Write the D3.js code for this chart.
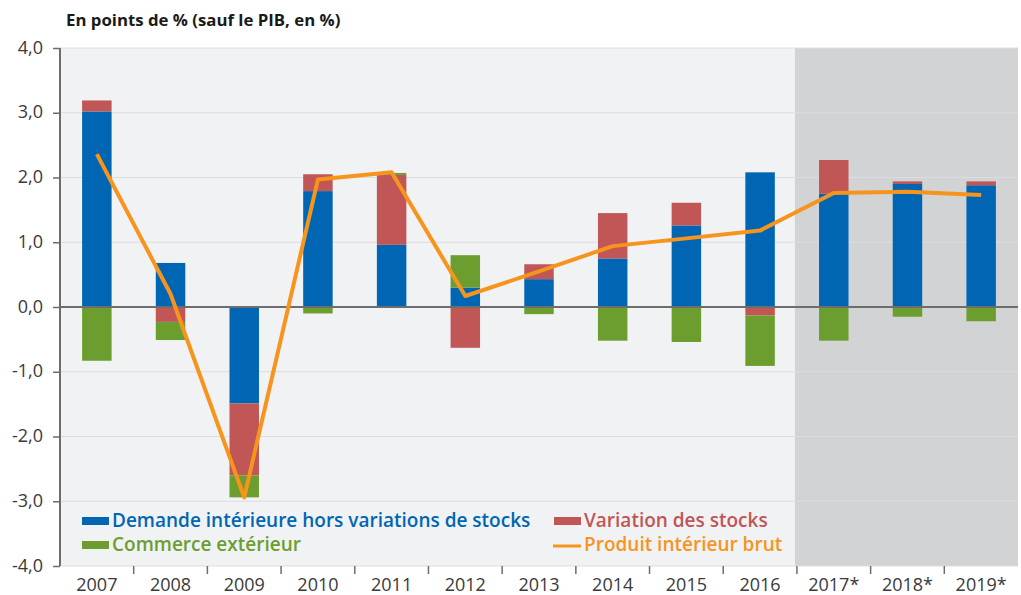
<!DOCTYPE html>
<html><head><meta charset="utf-8">
<script src="https://cdn.jsdelivr.net/npm/d3@7"></script>
<style>body{margin:0;background:#fff;} svg{display:block;}</style>
</head><body>
<svg id="c" width="1021" height="595"></svg>
<script>
const years = ["2007","2008","2009","2010","2011","2012","2013","2014","2015","2016","2017*","2018*","2019*"];
const demande = [3.02, 0.68, -1.49, 1.79, 0.96, 0.30, 0.43, 0.75, 1.26, 2.08, 1.75, 1.90, 1.88];
const stocks  = [0.17, -0.23, -1.11, 0.26, 1.08, -0.63, 0.23, 0.70, 0.35, -0.13, 0.52, 0.04, 0.06];
const commerce= [-0.83, -0.28, -0.34, -0.10, 0.03, 0.50, -0.11, -0.52, -0.54, -0.78, -0.52, -0.15, -0.22];
const pib     = [2.36, 0.20, -2.94, 1.97, 2.08, 0.17, 0.55, 0.94, 1.06, 1.18, 1.76, 1.78, 1.73];
const yTicks  = [-4,-3,-2,-1,0,1,2,3,4];
const forecastFrom = "2017*";

const W=1021,H=595, m={l:60,r:3,t:48,b:29};
const svg=d3.select("#c");
const x=d3.scaleBand().domain(years).range([m.l,W-m.r]).paddingInner(0).paddingOuter(0);
const y=d3.scaleLinear().domain([-4,4]).range([H-m.b,m.t]);
const font="'Open Sans', sans-serif";

// backgrounds
svg.append("rect").attr("x",m.l).attr("y",m.t).attr("width",W-m.r-m.l).attr("height",y(-4)-m.t).attr("fill","#f1f2f4");
const fx=x(forecastFrom);
svg.append("rect").attr("x",fx-2).attr("y",m.t).attr("width",W-m.r-fx+2).attr("height",y(-4)-m.t).attr("fill","#d2d3d5");

// gridlines
svg.append("g").selectAll("line").data(yTicks).join("line")
 .attr("x1",m.l).attr("x2",W-m.r).attr("y1",d=>y(d)).attr("y2",d=>y(d))
 .attr("stroke","#dcdde0").attr("stroke-width",1);

// stacked bars
const bw=x.bandwidth()*0.4;
years.forEach((yr,i)=>{
  let pos=0,neg=0;
  [[demande[i],"#0066b3"],[stocks[i],"#c05656"],[commerce[i],"#6b9e2f"]].forEach(([v,c])=>{
    let y0,y1;
    if(v>=0){y0=pos;y1=pos+v;pos=y1;} else {y0=neg;y1=neg+v;neg=y1;}
    svg.append("rect").attr("x",x(yr)+(x.bandwidth()-bw)/2).attr("width",bw)
      .attr("y",y(Math.max(y0,y1))).attr("height",Math.abs(y(y0)-y(y1)))
      .attr("fill",c);
  });
});

// zero line
svg.append("line").attr("x1",m.l).attr("x2",W-m.r).attr("y1",y(0)).attr("y2",y(0)).attr("stroke","#6d6d6d").attr("stroke-width",2);

// PIB line
svg.append("path").datum(pib).attr("fill","none").attr("stroke","#f7941d").attr("stroke-width",4).attr("stroke-linejoin","round")
 .attr("d",d3.line().x((d,i)=>x(years[i])+x.bandwidth()/2).y(d=>y(d)));

// y axis
const ya=svg.append("g").attr("transform",`translate(${m.l},0)`)
 .call(d3.axisLeft(y).tickValues(yTicks).tickSize(7).tickPadding(10).tickFormat(d=>d3.format(".1f")(d).replace(".",",").replace("−","-")));
ya.select(".domain").attr("stroke","#6d6d6d").attr("stroke-width",2).attr("d",`M0,${m.t}V${y(-4)}`);
ya.selectAll(".tick line").attr("stroke","#6d6d6d").attr("stroke-width",1.5);
ya.selectAll("text").attr("font-family",font).attr("font-size",18).attr("fill","#3a3a3a").attr("dy","0.28em");

// x axis
const xa=svg.append("g").attr("transform",`translate(0,${y(-4)})`)
 .call(d3.axisBottom(x).tickSize(0).tickPadding(12));
xa.select(".domain").remove();
xa.selectAll("text").attr("font-family",font).attr("font-size",18).attr("fill","#3a3a3a");
svg.append("g").selectAll("line").data(years.slice(1)).join("line")
 .attr("x1",d=>x(d)).attr("x2",d=>x(d)).attr("y1",y(-4)).attr("y2",y(-4)+8)
 .attr("stroke","#6d6d6d").attr("stroke-width",1.5);

// title
svg.append("text").attr("x",66).attr("y",26).attr("font-family",font).attr("font-size",16.8).attr("font-weight",700).attr("fill","#1a1a1a")
 .text("En points de % (sauf le PIB, en %)");

// legend
const leg=[
 {t:"Demande intérieure hors variations de stocks",c:"#0066b3",x:82,y:521,type:"rect"},
 {t:"Commerce extérieur",c:"#6b9e2f",x:82,y:545,type:"rect"},
 {t:"Variation des stocks",c:"#c05656",x:554,y:521,type:"rect"},
 {t:"Produit intérieur brut",c:"#f7941d",x:554,y:545,type:"line"}];
leg.forEach(l=>{
  if(l.type==="rect") svg.append("rect").attr("x",l.x).attr("y",l.y-4).attr("width",27).attr("height",8).attr("fill",l.c);
  else svg.append("line").attr("x1",l.x-1).attr("x2",l.x+27).attr("y1",l.y+1).attr("y2",l.y+1).attr("stroke",l.c).attr("stroke-width",3);
  svg.append("text").attr("x",l.x+30).attr("y",l.y+6).attr("font-family",font).attr("font-size",19).attr("font-weight",600).attr("fill",l.c).text(l.t);
});
</script>
</body></html>
